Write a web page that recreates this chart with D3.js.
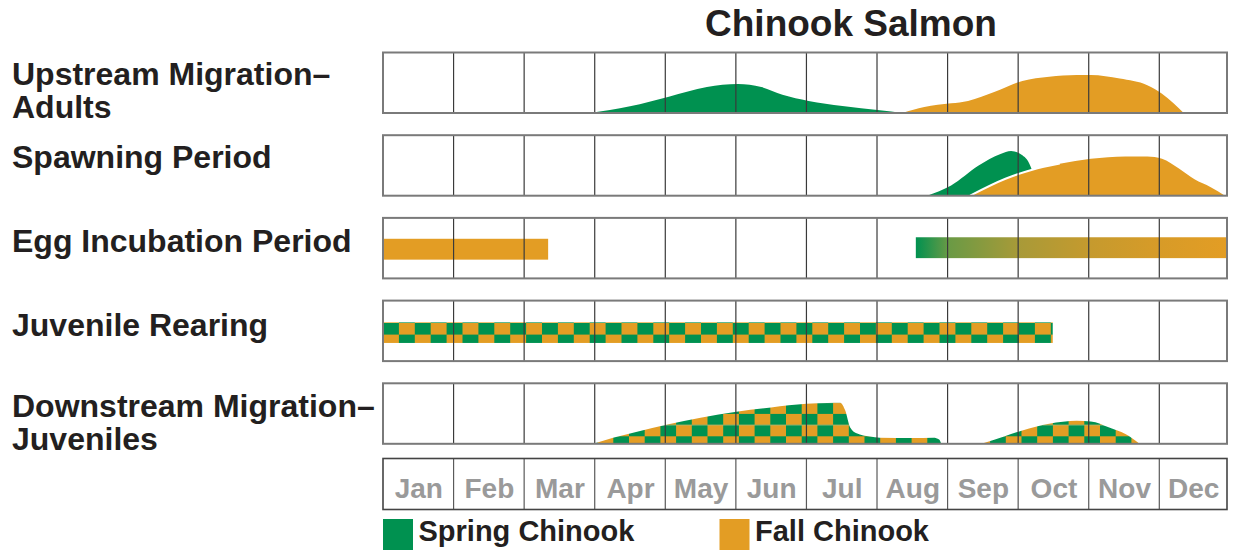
<!DOCTYPE html>
<html><head><meta charset="utf-8">
<script src="https://cdn.jsdelivr.net/npm/d3@7"></script>
<style>
body{margin:0;background:#fff;}
svg{display:block;font-family:"Liberation Sans",Arial,Helvetica,sans-serif;}
</style>
</head><body>
<svg id="chart" width="1235" height="550"></svg>
<script>
// ---------- data ----------
const title = "Chinook Salmon";
const months = ["Jan","Feb","Mar","Apr","May","Jun","Jul","Aug","Sep","Oct","Nov","Dec"];
const rowLabels = [
  ["Upstream Migration–","Adults"],
  ["Spawning Period"],
  ["Egg Incubation Period"],
  ["Juvenile Rearing"],
  ["Downstream Migration–","Juveniles"]
];
const seriesNames = ["Spring Chinook","Fall Chinook"];
// [month position, relative intensity]
const upstreamSpring = [[2.93,0],[3.5,0.11],[4.05,0.27],[4.59,0.43],[5.03,0.48],[5.36,0.43],[5.66,0.30],[6.03,0.20],[6.51,0.115],[7.04,0.044],[7.36,0]];
const upstreamFall = [[7.36,0],[7.67,0.10],[8.05,0.16],[8.29,0.20],[8.67,0.35],[9.06,0.53],[9.44,0.60],[9.83,0.63],[10.03,0.63],[10.44,0.57],[10.83,0.46],[11.04,0.32],[11.21,0.16],[11.36,0]];
const spawningSpring = [[7.71,0],[8.05,0.17],[8.44,0.50],[8.75,0.69],[8.90,0.74],[9.06,0.67],[9.19,0.44],[9.23,0]];
const spawningFall = [[8.32,0],[8.82,0.28],[9.20,0.43],[9.59,0.53],[10.03,0.61],[10.52,0.65],[10.83,0.65],[11.04,0.61],[11.29,0.45],[11.52,0.27],[11.76,0.14],[11.97,0]];
const eggFall = [0, 2.34];            // month range
const eggMixed = [7.55, 12];          // month range, spring -> fall
const juvenileRearing = [0, 9.49];    // month range, both runs
const downstreamA = [[2.98,0],[3.26,0.10],[3.6,0.20],[4.03,0.32],[4.5,0.43],[5.01,0.53],[5.5,0.60],[6.0,0.66],[6.3,0.675],[6.48,0.68],[6.55,0.55],[6.62,0.27],[6.71,0.175],[6.9,0.12],[7.04,0.10],[7.5,0.095],[7.8,0.10],[7.88,0.07],[7.91,0]];
const downstreamB = [[8.48,0],[8.8,0.12],[9.06,0.22],[9.44,0.33],[9.83,0.38],[10.03,0.37],[10.29,0.27],[10.52,0.16],[10.72,0]];

// ---------- style ----------
const GREEN = "#009150", ORANGE = "#E39D24", INK = "#231f20";
const svg = d3.select("#chart");
const x = d3.scaleLinear().domain([0, 11, 12]).range([383, 1159.3, 1227]);
const panelTop = i => 52.5 + i * 82.7;
const panelH = 60.5;

const defs = svg.append("defs");
function checker(id, ox, oy, w, h, firstTop) {
  const p = defs.append("pattern").attr("id", id).attr("patternUnits","userSpaceOnUse")
    .attr("x", ox).attr("y", oy).attr("width", 2*w).attr("height", 2*h);
  const c1 = firstTop, c2 = firstTop === GREEN ? ORANGE : GREEN;
  p.append("rect").attr("x",0).attr("y",0).attr("width",w).attr("height",h).attr("fill",c1);
  p.append("rect").attr("x",w).attr("y",0).attr("width",w).attr("height",h).attr("fill",c2);
  p.append("rect").attr("x",0).attr("y",h).attr("width",w).attr("height",h).attr("fill",c2);
  p.append("rect").attr("x",w).attr("y",h).attr("width",w).attr("height",h).attr("fill",c1);
}
checker("chkRear", 383, 323, 15.9, 11.6, GREEN);
checker("chkDown", 613.3-15.7, 402.7-11.2, 15.7, 11.2, ORANGE);

const grad = defs.append("linearGradient").attr("id","eggGrad").attr("x1","0%").attr("x2","100%");
[[0,"#009150"],[0.106,"#6a9a45"],[0.33,"#a89a38"],[0.556,"#c59a2e"],[0.78,"#d79b28"],[1,"#E39D24"]]
  .forEach(s => grad.append("stop").attr("offset", s[0]).attr("stop-color", s[1]));

// ---------- title ----------
svg.append("text").attr("x", 851).attr("y", 36).attr("text-anchor","middle")
  .attr("font-size", 37).attr("font-weight","bold").attr("fill", INK).text(title);

// ---------- row labels ----------
const labelBaselines = [[85,118],[168],[252],[336],[417,450]];
rowLabels.forEach((lines, i) => {
  lines.forEach((t, j) => {
    svg.append("text").attr("x", 12).attr("y", labelBaselines[i][j])
      .attr("font-size", 32).attr("font-weight","bold").attr("fill", INK).text(t);
  });
});

// ---------- panels ----------
function yScale(i){ return d3.scaleLinear().domain([0,1]).range([panelTop(i)+panelH, panelTop(i)]); }
function area(i){ const y = yScale(i); return d3.area().x(d=>x(d[0])).y0(y(0)).y1(d=>y(d[1])).curve(d3.curveMonotoneX); }
function line(i){ const y = yScale(i); return d3.line().x(d=>x(d[0])).y(d=>y(d[1])).curve(d3.curveMonotoneX); }

const g = svg.append("g");
// panel 0 upstream
g.append("path").attr("d", area(0)(upstreamSpring)).attr("fill", GREEN);
g.append("path").attr("d", area(0)(upstreamFall)).attr("fill", ORANGE);
// panel 1 spawning
g.append("path").attr("d", area(1)(spawningSpring)).attr("fill", GREEN);
g.append("path").attr("d", area(1)(spawningFall)).attr("fill", ORANGE);
g.append("path").attr("d", line(1)(spawningFall.filter(d=>d[0]<9.6))).attr("fill","none")
  .attr("stroke","#fff").attr("stroke-width",2);
// panel 2 egg incubation
{
  const y = yScale(2);
  g.append("rect").attr("x", x(eggFall[0])).attr("width", x(eggFall[1])-x(eggFall[0]))
    .attr("y", y(0.655)).attr("height", y(0.31)-y(0.655)).attr("fill", ORANGE);
  g.append("rect").attr("x", x(eggMixed[0])).attr("width", x(eggMixed[1])-x(eggMixed[0]))
    .attr("y", y(0.68)).attr("height", y(0.335)-y(0.68)).attr("fill", "url(#eggGrad)");
}
// panel 3 juvenile rearing
{
  const y = yScale(3);
  g.append("rect").attr("x", x(juvenileRearing[0])).attr("width", x(juvenileRearing[1])-x(juvenileRearing[0]))
    .attr("y", y(0.64)).attr("height", y(0.3)-y(0.64)).attr("fill", "url(#chkRear)");
}
// panel 4 downstream
g.append("path").attr("d", area(4)(downstreamA)).attr("fill", "url(#chkDown)");
g.append("path").attr("d", area(4)(downstreamB)).attr("fill", "url(#chkDown)");

// grids
for (let i = 0; i < 5; i++) {
  const top = panelTop(i);
  const gg = svg.append("g");
  gg.selectAll("line").data(d3.range(1,12)).join("line")
    .attr("x1", d=>x(d)).attr("x2", d=>x(d)).attr("y1", top).attr("y2", top+panelH)
    .attr("stroke","#3a3a3a").attr("stroke-width",1.2);
  gg.append("rect").attr("x", x(0)).attr("y", top).attr("width", x(12)-x(0)).attr("height", panelH)
    .attr("fill","none").attr("stroke","#7a7a7a").attr("stroke-width",2);
}

// ---------- month axis ----------
const axTop = 458.5, axH = 51;
const axG = svg.append("g").attr("transform", `translate(0,${axTop + 39.5})`);
axG.call(d3.axisBottom(x).tickValues(d3.range(12).map(d=>d+0.5)).tickSize(0).tickFormat(d=>months[Math.floor(d)]));
axG.select(".domain").remove();
axG.selectAll("text").attr("dy", 0).attr("y", 0).attr("font-size", 28).attr("font-weight","bold")
  .attr("fill","#9a9a9a").attr("font-family", '"Liberation Sans",Arial,sans-serif');
svg.append("g").selectAll("line").data(d3.range(1,12)).join("line")
  .attr("x1", d=>x(d)).attr("x2", d=>x(d)).attr("y1", axTop).attr("y2", axTop+axH)
  .attr("stroke","#5a5a5a").attr("stroke-width",1.2);
svg.append("rect").attr("x", x(0)).attr("y", axTop).attr("width", x(12)-x(0)).attr("height", axH)
  .attr("fill","none").attr("stroke","#444").attr("stroke-width",1.6);

// ---------- legend ----------
const legendX = [383, 719.5];
const legendColors = [GREEN, ORANGE];
seriesNames.forEach((n, i) => {
  svg.append("rect").attr("x", legendX[i]).attr("y", 519).attr("width", 30).attr("height", 31).attr("fill", legendColors[i]);
  svg.append("text").attr("x", legendX[i] + 35.5).attr("y", 541).attr("font-size", 29)
    .attr("font-weight","bold").attr("fill", INK).text(n);
});
</script>
</body></html>
